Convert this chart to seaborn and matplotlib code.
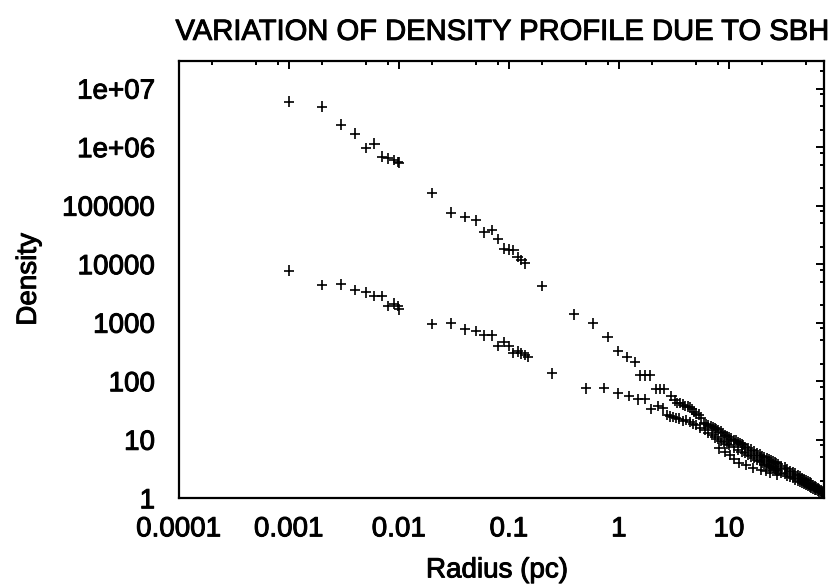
import numpy as np
import pandas as pd
import matplotlib
matplotlib.use("Agg")
import matplotlib.pyplot as plt
import matplotlib.patheffects as pe
from matplotlib.ticker import FixedLocator, FixedFormatter, LogLocator, NullFormatter
import seaborn as sns

# ---------------- data ----------------
title = "VARIATION OF DENSITY PROFILE DUE TO SBH"
x_label = "Radius (pc)"
y_label = "Density"

x_tick_values = [0.0001, 0.001, 0.01, 0.1, 1, 10]
x_tick_labels = ["0.0001", "0.001", "0.01", "0.1", "1", "10"]
y_tick_values = [1, 10, 100, 1000, 10000, 100000, 1e6, 1e7]
y_tick_labels = ["1", "10", "100", "1000", "10000", "100000", "1e+06", "1e+07"]

# profile with SBH (steep inner cusp)
upper_r_core = [0.001, 0.002, 0.003, 0.004, 0.005, 0.006, 0.007, 0.008, 0.009, 0.0099, 0.0101]
upper_rho_core = [6.0e6, 4.93e6, 2.43e6, 1.71e6, 9.7e5, 1.15e6, 6.9e5, 6.4e5, 5.97e5, 5.6e5, 5.45e5]
upper_r_mid = [0.02, 0.03, 0.04, 0.05, 0.06, 0.07, 0.08, 0.09, 0.10, 0.11, 0.12, 0.13, 0.14]
upper_rho_mid = [1.65e5, 7.6e4, 6.4e4, 5.6e4, 3.5e4, 3.8e4, 2.7e4, 1.85e4, 1.78e4, 1.74e4,
                 1.33e4, 1.17e4, 1.03e4]
upper_r_outer = [0.199, 0.39, 0.585, 0.79, 0.986, 1.19, 1.40, 1.55, 1.72, 1.92, 2.17, 2.36, 2.57]
upper_rho_outer = [4200, 1385, 973, 574, 327, 262, 212, 126, 126, 126, 73, 73, 73]
upper_r_halo = [3.0, 3.2, 3.4, 3.6, 3.8, 4.0, 4.2, 4.4, 4.6, 4.8,
                5.0, 5.3, 5.6, 5.9, 6.2, 6.5, 6.8, 7.1, 7.4, 7.7,
                8.0, 8.4, 8.8, 9.2, 9.6, 10, 10.5, 11, 11.5, 12,
                12.5, 13, 13.5, 14, 15, 16, 17, 18, 19, 20,
                21, 22, 23, 24, 25, 26, 27, 28, 30, 32,
                34, 36, 38, 40, 42, 44, 46, 48, 50, 52,
                54, 56, 58, 60, 62, 64, 66, 68, 70, 72]
upper_rho_halo = [56, 47, 42, 43, 40, 38, 37, 36, 33, 30,
                  28, 27, 24, 19, 18.5, 18, 17, 16.5, 16, 15,
                  14.7, 13.8, 13, 12.2, 11.6, 11, 10.5, 10, 9.7, 9.1,
                  8.7, 8.4, 8.1, 7.6, 7.2, 6.8, 6.4, 6.0, 5.6, 5.3,
                  5.0, 4.8, 4.6, 4.4, 4.25, 4.1, 3.95, 3.8, 3.55, 3.35,
                  3.15, 2.95, 2.8, 2.65, 2.5, 2.38, 2.25, 2.15, 2.05, 1.95,
                  1.86, 1.78, 1.7, 1.62, 1.55, 1.48, 1.42, 1.36, 1.3, 1.24]

# profile without SBH (shallow core)
lower_r_core = [0.001, 0.002, 0.003, 0.004, 0.005, 0.006, 0.007, 0.008, 0.009, 0.0099, 0.0101]
lower_rho_core = [7.8e3, 4.4e3, 4.5e3, 3.6e3, 3.3e3, 2.84e3, 2.84e3, 1.92e3, 2.13e3, 1.94e3, 1.69e3]
lower_r_mid = [0.02, 0.03, 0.04, 0.05, 0.06, 0.07, 0.08, 0.09, 0.10, 0.11, 0.12, 0.13, 0.14, 0.15]
lower_rho_mid = [946, 973, 768, 718, 607, 607, 398, 466, 398, 306, 324, 299, 283, 262]
lower_r_outer = [0.248, 0.50, 0.736, 0.986, 1.23, 1.50, 1.72, 1.95, 2.25, 2.53, 2.72]
lower_rho_outer = [136, 75.5, 77, 62, 56.5, 49, 49.5, 33.5, 37.7, 34.4, 26.4]
lower_r_halo = [2.9, 3.1, 3.3, 3.5, 3.8, 4.1, 4.4, 4.7, 5.0, 5.5,
                6.0, 6.5, 7.0, 7.5, 8.0, 8.2, 8.5, 9.0, 9.2, 9.5,
                10, 10.2, 11, 11.2, 12, 12.3, 13, 14, 14.2, 15,
                16, 16.6, 17, 18, 19, 19.6, 20, 21, 21.5, 22,
                23, 23.8, 24, 25, 26, 27, 27.5, 28, 30, 32,
                34, 36, 38, 40, 42, 44, 46, 48, 50, 52,
                54, 56, 58, 60, 62, 64, 66, 68, 70, 72]
lower_rho_halo = [25, 24.5, 23.5, 23, 21, 22, 20, 18.5, 18, 16,
                  14.5, 13, 12, 11, 10.3, 7.1, 9.7, 9.1, 6.2, 8.6,
                  8.1, 5.5, 7.4, 4.7, 6.8, 4.05, 6.3, 5.9, 3.7, 5.6,
                  5.2, 3.25, 4.9, 4.6, 4.35, 3.1, 4.1, 3.9, 2.9, 3.7,
                  3.55, 2.74, 3.4, 3.3, 3.15, 3.05, 2.5, 2.95, 2.75, 2.6,
                  2.45, 2.32, 2.2, 2.1, 2.0, 1.92, 1.84, 1.77, 1.7, 1.64,
                  1.58, 1.52, 1.47, 1.42, 1.38, 1.34, 1.3, 1.27, 1.24, 1.21]

# ---------------- assemble ----------------
upper_r = upper_r_core + upper_r_mid + upper_r_outer + upper_r_halo
upper_rho = upper_rho_core + upper_rho_mid + upper_rho_outer + upper_rho_halo
lower_r = lower_r_core + lower_r_mid + lower_r_outer + lower_r_halo
lower_rho = lower_rho_core + lower_rho_mid + lower_rho_outer + lower_rho_halo

df = pd.DataFrame({
    "radius": upper_r + lower_r,
    "density": upper_rho + lower_rho,
    "profile": ["with SBH"] * len(upper_r) + ["without SBH"] * len(lower_r),
})

# ---------------- style ----------------
sns.set_style("white")
plt.rcParams["font.family"] = ["Liberation Sans", "DejaVu Sans"]
plt.rcParams["axes.linewidth"] = 1.6

W, H = 835, 588
fig = plt.figure(figsize=(W / 100, H / 100), dpi=100)
left, right, top, bottom = 178.7, 824.3, 60.7, 498.3
ax = fig.add_axes([left / W, 1 - bottom / H, (right - left) / W, (bottom - top) / H])

sns.scatterplot(data=df, x="radius", y="density", hue="profile",
                palette=["black", "black"], marker="+", s=55, linewidth=1.2,
                legend=False, ax=ax)

ax.set_xscale("log")
ax.set_yscale("log")
ax.set_xlim(1e-4, 73.5)
ax.set_ylim(1, 3e7)

ax.xaxis.set_major_locator(FixedLocator(x_tick_values))
ax.xaxis.set_major_formatter(FixedFormatter(x_tick_labels))
ax.yaxis.set_major_locator(FixedLocator(y_tick_values))
ax.yaxis.set_major_formatter(FixedFormatter(y_tick_labels))
ax.xaxis.set_minor_locator(LogLocator(base=10, subs=(2, 5, 8), numticks=30))
ax.yaxis.set_minor_locator(LogLocator(base=10, subs=(2, 5, 8), numticks=30))
ax.xaxis.set_minor_formatter(NullFormatter())
ax.yaxis.set_minor_formatter(NullFormatter())

ax.tick_params(which="both", direction="in", top=True, right=True,
               colors="black", width=1.4)
ax.tick_params(which="major", length=6, labelsize=20)
ax.tick_params(which="minor", length=3)
ax.tick_params(axis="x", which="major", pad=13)
ax.tick_params(axis="y", which="major", pad=17)

for sp in ax.spines.values():
    sp.set_color("black")
    sp.set_linewidth(1.6)

ax.set_title(title, fontsize=21, pad=15, color="black")
ax.set_xlabel(x_label, fontsize=20, color="black")
ax.set_ylabel(y_label, fontsize=20, color="black")
ax.xaxis.set_label_coords(0.493, -0.135)
ax.yaxis.set_label_coords(-0.212, 0.5)

# heavier glyph rendering, like the reference
heavy = [pe.withStroke(linewidth=0.7, foreground="black")]
for t in ([ax.title, ax.xaxis.label, ax.yaxis.label]
          + ax.get_xticklabels() + ax.get_yticklabels()):
    t.set_path_effects(heavy)

fig.savefig("out.png", dpi=100, facecolor="white")
